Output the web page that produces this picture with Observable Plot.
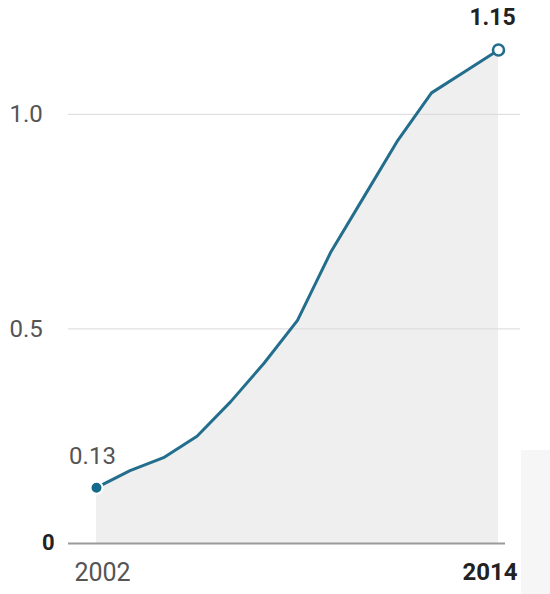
<!DOCTYPE html>
<html>
<head>
<meta charset="utf-8">
<script src="https://cdn.jsdelivr.net/npm/d3@7"></script>
<script src="https://cdn.jsdelivr.net/npm/@observablehq/plot@0.6"></script>
<style>
  html, body { margin: 0; padding: 0; background: #fff; }
  #wrap { position: relative; width: 550px; height: 594px; }
  #side { position: absolute; left: 521px; top: 450px; width: 29px; height: 144px; background: #f6f6f6; }
  svg { position: absolute; left: 0; top: 0; }
</style>
</head>
<body>
<div id="wrap"><div id="side"></div></div>
<script>
const years = [2002, 2003, 2004, 2005, 2006, 2007, 2008, 2009, 2010, 2011, 2012, 2013, 2014];
const values = [0.13, 0.17, 0.20, 0.25, 0.33, 0.42, 0.52, 0.68, 0.81, 0.94, 1.05, 1.10, 1.15];
const gridTicks = [0.5, 1.0];
const tickLabels = ["0.5", "1.0"];
const xLabels = ["2002", "2014"];

const data = years.map((y, i) => ({year: y, value: values[i]}));
const first = data[0];
const last = data[data.length - 1];
const font = "Roboto, 'Liberation Sans', sans-serif";

const chart = Plot.plot({
  width: 550,
  height: 594,
  marginLeft: 96,
  marginRight: 52,
  marginTop: 28,
  marginBottom: 51,
  style: {fontFamily: font, background: "transparent", overflow: "visible"},
  x: {domain: [2002, 2014], axis: null},
  y: {domain: [0, 1.2], axis: null},
  marks: [
    Plot.areaY(data, {x: "year", y: "value", fill: "#efefef"}),
    Plot.ruleY(gridTicks, {stroke: "#d9d9d9", strokeWidth: 1, insetLeft: -28, insetRight: -22}),
    Plot.ruleY([0], {stroke: "#9a9a9a", strokeWidth: 2, insetLeft: -28, insetRight: -7}),
    Plot.line(data, {x: "year", y: "value", stroke: "#246e8d", strokeWidth: 3, strokeLinejoin: "round"}),
    Plot.dot([first], {x: "year", y: "value", r: 6, fill: "#146a8a", stroke: "#fff", strokeWidth: 2}),
    Plot.dot([last], {x: "year", y: "value", r: 5.5, fill: "#fff", stroke: "#246e8d", strokeWidth: 2.6}),
    Plot.text([first], {x: "year", y: "value", text: d => d.value.toFixed(2), dy: -31, dx: -4, fontSize: 24, fill: "#555", textAnchor: "middle"}),
    Plot.text([last], {x: "year", y: "value", text: d => d.value.toFixed(2), dy: -32, dx: -6, fontSize: 23, fontWeight: "bold", fill: "#222", textAnchor: "middle"}),
    Plot.text(gridTicks, {x: () => 2002, y: d => d, text: (d, i) => tickLabels[i], textAnchor: "start", dx: -87, fontSize: 24, fill: "#555"}),
    Plot.text([0], {x: () => 2002, y: d => d, text: () => "0", textAnchor: "end", dx: -42, dy: -1, fontSize: 22, fontWeight: "bold", fill: "#222"}),
    Plot.text([first], {x: "year", y: 0, text: () => xLabels[0], dy: 29, dx: 6, fontSize: 25, fill: "#555", textAnchor: "middle"}),
    Plot.text([last], {x: "year", y: 0, text: () => xLabels[1], dy: 29, dx: 19, fontSize: 24, fontWeight: "bold", fill: "#222", textAnchor: "end"})
  ]
});
document.getElementById("wrap").appendChild(chart);
</script>
</body>
</html>
